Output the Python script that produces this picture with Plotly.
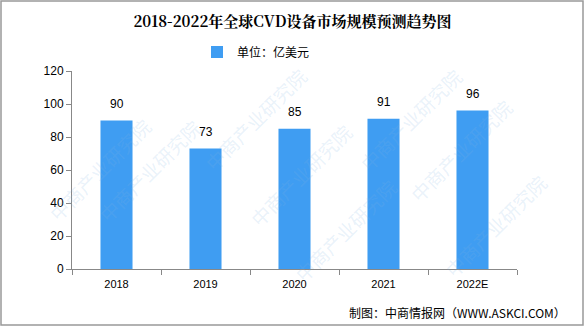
import plotly.graph_objects as go

categories = ["2018", "2019", "2020", "2021", "2022E"]
values = [90, 73, 85, 91, 96]
series_name = "单位：亿美元"
title_text = "2018-2022年全球CVD设备市场规模预测趋势图"
source_text = "制图：中商情报网（WWW.ASKCI.COM）"

W, H = 585, 327
L, R, T, B = 72, 68, 71, 58
pw, ph = W - L - R, H - T - B

fig = go.Figure()
fig.add_trace(go.Bar(
    x=categories, y=values, name=series_name,
    marker=dict(color="#3F9DF2", line=dict(width=0)),
    width=0.36,
))

labels = [dict(x=i, y=v, xref="x", yref="y", text=str(v), showarrow=False,
               yanchor="bottom", yshift=8,
               font=dict(family="Liberation Sans, Arial", size=12, color="#000000"))
          for i, v in enumerate(values)]

# watermarks
wm = []
for (px, py) in [(40, 110), (255, 60), (470, 60), (90, 230), (300, 175), (520, 150), (345, 290), (555, 285)]:
    wm.append(dict(x=(px - L) / pw, y=1 - (py - T) / ph, xref="paper", yref="paper",
                   text="中商产业研究院", showarrow=False, textangle=-45,
                   font=dict(family="Noto Sans CJK SC", size=19, color="rgba(130,180,225,0.18)")))

fig.update_layout(
    width=W, height=H,
    margin=dict(l=L, r=R, t=T, b=B),
    paper_bgcolor="white", plot_bgcolor="white",
    title=dict(text="<b>" + title_text + "</b>", x=0.5, xanchor="center", y=1 - 22 / H, yanchor="middle",
               font=dict(family="Noto Serif CJK SC, Noto Sans CJK SC", size=15, color="#000000")),
    showlegend=True,
    legend=dict(orientation="h", x=(256 - L) / pw, xanchor="center", y=1 + (T - 52) / ph, yanchor="middle",
                font=dict(family="Noto Sans CJK SC", size=12, color="#000000"),
                bgcolor="rgba(0,0,0,0)"),
    xaxis=dict(type="category", categoryorder="array", categoryarray=categories,
               range=[-0.5, len(categories) - 0.5],
               showline=True, linecolor="#888888", linewidth=1, ticks="outside", ticklen=5,
               tickcolor="#888888", tickson="boundaries", showgrid=False, ticklabelstandoff=5,
               tickfont=dict(family="Liberation Sans, Arial", size=11, color="#000000")),
    yaxis=dict(range=[0, 120], dtick=20, showline=True, linecolor="#888888", linewidth=1,
               ticks="outside", ticklen=5, tickcolor="#888888", showgrid=False, zeroline=False,
               tickfont=dict(family="Liberation Sans, Arial", size=12, color="#000000")),
    annotations=wm + labels + [dict(x=(568 - L) / pw, y=-(312 - T - ph) / ph, xref="paper", yref="paper",
                           xanchor="right", yanchor="middle", text=source_text, showarrow=False,
                           font=dict(family="Noto Sans CJK SC", size=12, color="#000000"))],
    shapes=[dict(type="rect", xref="paper", yref="paper",
                 x0=(1 - L) / pw, x1=(583 - L) / pw, y0=1 - (325 - T) / ph, y1=1 - (1 - T) / ph,
                 line=dict(color="#999999", width=1.5), fillcolor="rgba(0,0,0,0)")],
)

fig.write_html("out.html")
